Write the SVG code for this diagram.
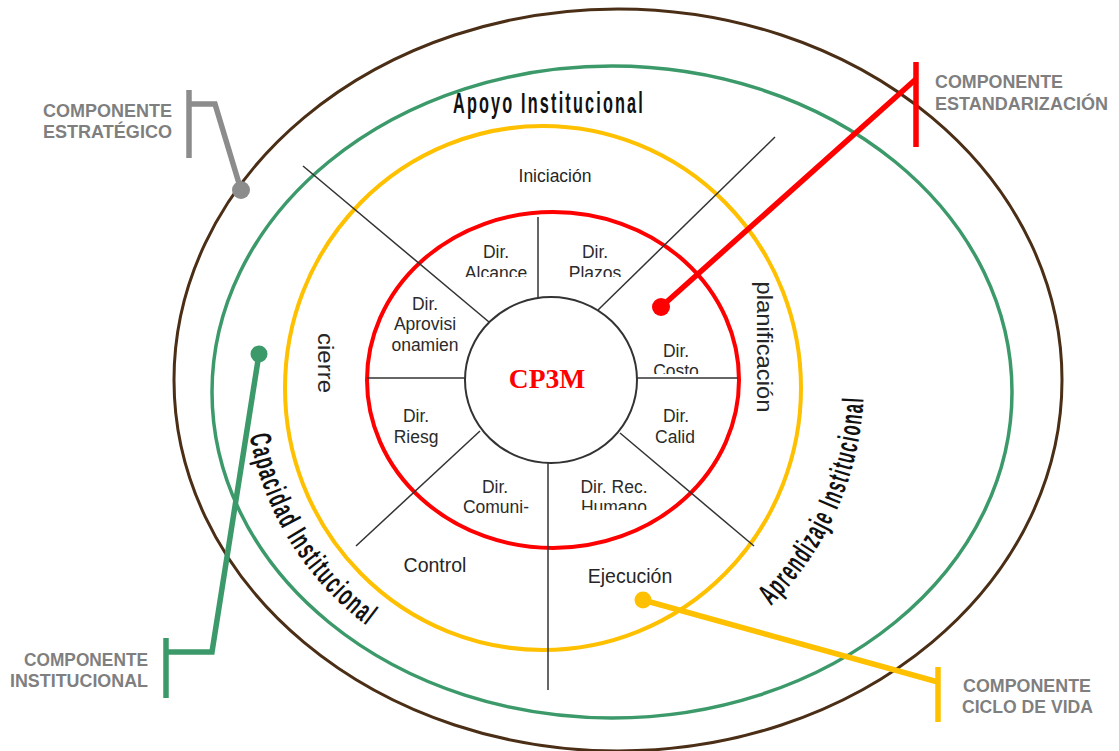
<svg xmlns="http://www.w3.org/2000/svg" width="1119" height="751" viewBox="0 0 1119 751">
<style>
.ring{fill:none}
.div{stroke:#333;stroke-width:1.5;fill:none}
.lbl{font-family:"Liberation Sans",Arial,sans-serif;font-size:17.5px;fill:#2b2b2b;text-anchor:middle}
.phase{font-family:"Liberation Sans",Arial,sans-serif;font-size:19.5px;fill:#262626;text-anchor:middle}
.arc{font-family:"Liberation Sans",Arial,sans-serif;font-weight:bold;font-size:30px;fill:#111}
.comp{font-family:"Liberation Sans",Arial,sans-serif;font-weight:bold;font-size:17.5px;fill:#7f7f7f}
.call{fill:none;stroke-width:5.5;stroke-linejoin:miter}
</style>
<defs>
<path id="pCap" d="M 249.6 435.6 A 303 303 0 0 0 396.5 645.4"/>
<path id="pApr" d="M 771 606 A 316 316 0 0 0 864 383"/>
<clipPath id="cTop"><rect x="430" y="230" width="220" height="47"/></clipPath>
<clipPath id="cCosto"><rect x="640" y="330" width="80" height="44"/></clipPath>
<clipPath id="cHum"><rect x="560" y="470" width="110" height="40"/></clipPath>
</defs>
<rect width="1119" height="751" fill="#fff"/>

<g id="rings">
<ellipse class="ring" cx="618" cy="380" rx="444" ry="371" stroke="#4b2e16" stroke-width="3"/>
<ellipse class="ring" cx="612" cy="392" rx="400" ry="326" stroke="#3c9a6a" stroke-width="3.5"/>
<ellipse class="ring" cx="543" cy="388" rx="258" ry="262" stroke="#ffc000" stroke-width="4"/>
<ellipse class="ring" cx="553" cy="380" rx="186" ry="168" stroke="#ff0000" stroke-width="4"/>
</g>

<g id="connectors">
<line class="div" x1="538" y1="217" x2="538" y2="300"/>
<line class="div" x1="367" y1="378" x2="466" y2="378"/>
<line class="div" x1="637" y1="378" x2="738" y2="378"/>
<line class="div" x1="548" y1="462" x2="548" y2="690"/>
<line class="div" x1="303" y1="166" x2="489" y2="322"/>
<line class="div" x1="598" y1="310" x2="775" y2="137"/>
<line class="div" x1="620" y1="433" x2="754" y2="546"/>
<line class="div" x1="480" y1="431" x2="356" y2="546"/>
</g>

<g id="center">
<ellipse cx="551" cy="380" rx="86" ry="83" fill="#fff" stroke="#333" stroke-width="2"/>
<text x="547" y="388" font-family="'Liberation Serif','Times New Roman',serif" font-weight="bold" font-size="27.5" fill="#ff0000" text-anchor="middle">CP3M</text>
</g>

<g id="dir-alcance"><text class="lbl" x="496" y="258">Dir.</text><text class="lbl" x="496" y="279" clip-path="url(#cTop)">Alcance</text></g>
<g id="dir-plazos"><text class="lbl" x="595" y="258">Dir.</text><text class="lbl" x="595" y="279" clip-path="url(#cTop)">Plazos</text></g>
<g id="dir-aprov"><text class="lbl" x="425" y="310">Dir.</text><text class="lbl" x="425" y="330">Aprovisi</text><text class="lbl" x="425" y="351">onamien</text></g>
<g id="dir-costo"><text class="lbl" x="676" y="357">Dir.</text><text class="lbl" x="676" y="377" clip-path="url(#cCosto)">Costo</text></g>
<g id="dir-calid"><text class="lbl" x="676" y="422">Dir.</text><text class="lbl" x="675" y="443">Calid</text></g>
<g id="dir-riesg"><text class="lbl" x="416" y="422">Dir.</text><text class="lbl" x="416" y="443">Riesg</text></g>
<g id="dir-comuni"><text class="lbl" x="495" y="493">Dir.</text><text class="lbl" x="496" y="513">Comuni-</text></g>
<g id="dir-rrhh"><text class="lbl" x="614" y="493">Dir. Rec.</text><text class="lbl" x="614" y="513" clip-path="url(#cHum)">Humano</text></g>

<g id="fase-iniciacion"><text class="phase" x="555" y="182" style="font-size:17.5px">Iniciación</text></g>
<g id="fase-planificacion"><text class="phase" transform="translate(757,347) rotate(90)" style="font-size:22px" textLength="131" lengthAdjust="spacingAndGlyphs">planificación</text></g>
<g id="fase-cierre"><text class="phase" transform="translate(318,363) rotate(90)" style="font-size:22px" textLength="60" lengthAdjust="spacingAndGlyphs">cierre</text></g>
<g id="fase-control"><text class="phase" x="435" y="572">Control</text></g>
<g id="fase-ejecucion"><text class="phase" x="630" y="583">Ejecución</text></g>

<g id="apoyo"><text class="arc" x="453" y="113" letter-spacing="4" textLength="192" lengthAdjust="spacingAndGlyphs">Apoyo Institucional</text></g>
<g id="capacidad"><text class="arc" letter-spacing="3"><textPath href="#pCap" textLength="230" lengthAdjust="spacingAndGlyphs">Capacidad Institucional</textPath></text></g>
<g id="aprendizaje"><text class="arc" letter-spacing="3"><textPath href="#pApr" textLength="234" lengthAdjust="spacingAndGlyphs">Aprendizaje Institucional</textPath></text></g>

<g id="comp-estrategico">
<polyline class="call" stroke="#8c8c8c" points="189,90 189,158"/>
<polyline class="call" stroke="#8c8c8c" points="189,104 215,104 241,190"/>
<circle cx="241" cy="190" r="9" fill="#8c8c8c"/>
<text class="comp" x="172" y="117" text-anchor="end" textLength="129" lengthAdjust="spacingAndGlyphs">COMPONENTE</text>
<text class="comp" x="172" y="138" text-anchor="end" textLength="129" lengthAdjust="spacingAndGlyphs">ESTRATÉGICO</text>
</g>
<g id="comp-estandarizacion">
<polyline class="call" stroke="#ff0000" points="916,62 916,147"/>
<polyline class="call" stroke="#ff0000" points="916,79 661,307"/>
<circle cx="661" cy="307" r="9" fill="#ff0000"/>
<text class="comp" x="935" y="88" textLength="128" lengthAdjust="spacingAndGlyphs">COMPONENTE</text>
<text class="comp" x="935" y="110" textLength="173" lengthAdjust="spacingAndGlyphs">ESTANDARIZACIÓN</text>
</g>
<g id="comp-institucional">
<polyline class="call" stroke="#3c9a6a" points="166,638 166,698"/>
<polyline class="call" stroke="#3c9a6a" points="166,652 212,652 259,354"/>
<circle cx="259" cy="354" r="8.5" fill="#3c9a6a"/>
<text class="comp" x="148" y="666" text-anchor="end" textLength="124" lengthAdjust="spacingAndGlyphs">COMPONENTE</text>
<text class="comp" x="148" y="687" text-anchor="end" textLength="138" lengthAdjust="spacingAndGlyphs">INSTITUCIONAL</text>
</g>
<g id="comp-ciclo">
<polyline class="call" stroke="#ffc000" points="938,667 938,722"/>
<polyline class="call" stroke="#ffc000" points="938,682 643,600"/>
<circle cx="643" cy="600" r="8.5" fill="#ffc000"/>
<text class="comp" x="963" y="692" textLength="128" lengthAdjust="spacingAndGlyphs">COMPONENTE</text>
<text class="comp" x="962" y="713" textLength="131" lengthAdjust="spacingAndGlyphs">CICLO DE VIDA</text>
</g>
</svg>
